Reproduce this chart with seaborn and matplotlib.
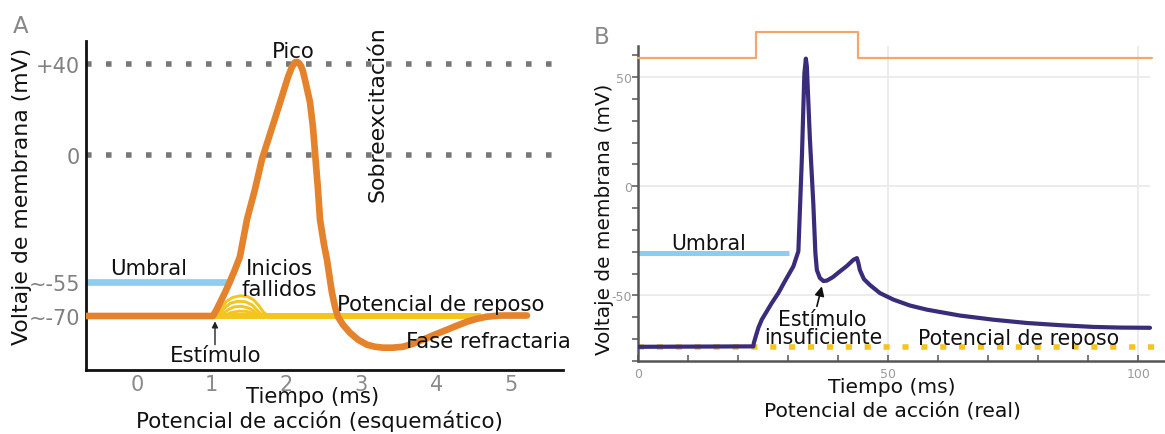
import matplotlib
matplotlib.use("Agg")
import matplotlib.pyplot as plt
import seaborn as sns

# ---------------- Panel A (schematic) data ----------------
a_time = [-0.682, 1.016, 1.056, 1.110, 1.176, 1.243, 1.310, 1.377, 1.471, 1.578, 1.671,
          1.778, 1.872, 1.952, 2.019, 2.072, 2.112, 2.139, 2.166, 2.193, 2.219, 2.259,
          2.313, 2.353, 2.380, 2.420, 2.447, 2.500, 2.540, 2.580, 2.607, 2.647, 2.687,
          2.754, 2.848, 2.955, 3.075, 3.182, 3.289, 3.422, 3.556, 3.690, 3.824, 3.984,
          4.144, 4.278, 4.412, 4.545, 4.679, 4.853, 5.214]
a_volt = [-70, -70, -67.7, -64.2, -59.8, -55.0, -49.8, -44.1, -27.9, -14.8, -1.7,
          9.2, 18.8, 27.1, 34.1, 38.5, 40.5, 40.7, 40.2, 38.9, 36.7, 31.1,
          23.2, 12.3, 1.4, -14.8, -27.9, -38.8, -45.4, -54.1, -59.8, -65.9, -70.3,
          -73.8, -77.3, -80.3, -82.5, -83.4, -83.8, -83.8, -83.4, -82.1, -80.3, -78.1,
          -76.0, -74.2, -72.5, -71.2, -70.3, -69.8, -69.8]
a_ref_levels = [40, 0]
a_ref_span = [-0.682, 5.60]
a_threshold = -55
a_threshold_span = [-0.682, 1.243]
a_rest = -70
a_rest_span = [1.016, 4.60]
# failed initiations (small humps)
arc1_t = [1.08, 1.14, 1.20, 1.28, 1.38, 1.48, 1.56, 1.63, 1.69, 1.76]
arc1_v = [-70, -66.0, -63.5, -61.9, -61.2, -61.5, -63.0, -65.5, -68.3, -70]
arc2_t = [1.10, 1.17, 1.25, 1.35, 1.45, 1.54, 1.61, 1.68]
arc2_v = [-70, -66.5, -64.4, -63.6, -63.8, -65.2, -67.6, -70]
arc3_t = [1.13, 1.21, 1.30, 1.40, 1.50, 1.58, 1.64]
arc3_v = [-70, -67.4, -66.0, -65.8, -66.6, -68.3, -70]
arc4_t = [1.16, 1.25, 1.36, 1.47, 1.56, 1.62]
arc4_v = [-70, -68.6, -67.9, -68.0, -69.0, -70]
a_yticks = [40, 0, -55, -70]
a_yticklabels = ["+40", "0", "~-55", "~-70"]
a_xticks = [0, 1, 2, 3, 4, 5]

# ---------------- Panel B (real) data ----------------
b_time = [0, 23.0, 23.1, 23.5, 24.0, 24.7, 25.7, 26.7, 28.0, 29.3, 31.0, 32.0, 32.7,
          33.2, 33.5, 33.7, 34.3, 35.0, 35.4, 35.7, 36.3, 37.0, 37.7, 38.9, 40.3, 41.7,
          43.0, 43.7, 44.0, 44.3, 45.1, 46.3, 48.3, 51.0, 54.3, 57.7, 64.3, 71.0, 77.7,
          84.3, 91.0, 96.3, 102.3]
b_volt = [-73.5, -73.3, -71.7, -68.6, -64.8, -61.0, -57.2, -53.4, -48.9, -43.5, -36.7,
          -29.8, 12.8, 51.6, 58.4, 54.8, 21.9, -8.5, -30.6, -38.4, -42.0, -43.4, -43.2,
          -41.6, -39.0, -36.5, -33.7, -32.9, -35.2, -38.4, -42.5, -45.2, -48.9, -51.9,
          -54.6, -56.5, -59.2, -61.1, -62.6, -63.6, -64.4, -64.7, -64.8]
stim_time = [0, 23.5, 23.5, 43.9, 43.9, 102.7]
stim_level = [58.6, 58.6, 70.4, 70.4, 58.6, 58.6]
b_threshold = -30.6
b_threshold_span = [0, 30.2]
b_rest = -73.8
b_rest_span = [0, 106]
b_grid_y = [50, 0, -50]
b_grid_x = [50, 100]
b_yticks = list(range(-80, 61, 10))
b_ylabels = {50: "50", 0: "0", -50: "-50"}
b_xticks = list(range(0, 101, 10))
b_xlabels = {0: "0", 50: "50", 100: "100"}

ORANGE = "#e5822c"
YELLOW = "#f5c51e"
BLUE = "#8dcdf0"
PURPLE = "#3b2c7b"
STIM = "#f3a76c"

sns.set_theme(style="white")
plt.rcParams["font.family"] = ["DejaVu Sans"]

W, H = 1165, 435
fig = plt.figure(figsize=(W / 100, H / 100), dpi=100)

def fx(px):
    return px / W

def fy(py):
    return 1 - py / H

axA = fig.add_axes([0.0738, 0.1478, 0.4097, 0.7556])
axB = fig.add_axes([0.5479, 0.1678, 0.4521, 0.7248])

# ---------- Panel A ----------
for lvl in a_ref_levels:
    axA.plot(a_ref_span, [lvl, lvl], color="#777777", lw=4, ls=(0, (1, 2.6)), zorder=1)
axA.plot(a_threshold_span, [a_threshold] * 2, color=BLUE, lw=4.8, zorder=2,
         solid_capstyle="butt")
axA.plot(a_rest_span, [a_rest] * 2, color=YELLOW, lw=4.3, zorder=2, solid_capstyle="butt")
for t, v in [(arc1_t, arc1_v), (arc2_t, arc2_v), (arc3_t, arc3_v), (arc4_t, arc4_v)]:
    sns.lineplot(x=t, y=v, ax=axA, sort=False, estimator=None, color=YELLOW, lw=2.1,
                 legend=False, zorder=3)
sns.lineplot(x=a_time, y=a_volt, ax=axA, sort=False, estimator=None, color=ORANGE,
             lw=4.8, legend=False, zorder=4, solid_joinstyle="round")

axA.set_xlim(-0.682, 5.70)
axA.set_ylim(-93.4, 49.8)
for s in ["top", "right"]:
    axA.spines[s].set_visible(False)
for s in ["left", "bottom"]:
    axA.spines[s].set_color("#111111")
    axA.spines[s].set_linewidth(2.0)
axA.set_yticks(a_yticks)
axA.set_yticklabels(a_yticklabels)
axA.set_xticks(a_xticks)
axA.set_xticklabels([str(t) for t in a_xticks])
axA.tick_params(axis="y", length=0, pad=4.3, labelsize=15, labelcolor="#808080")
axA.tick_params(axis="x", length=0, pad=3, labelsize=15, labelcolor="#8a8a8a")
axA.set_xlabel("")
axA.set_ylabel("")

tk = dict(fontsize=15.3, color="#111111", ha="center", va="baseline", zorder=6)
axA.text(2.086, 42.7, "Pico", **tk)
axA.text(0.151, -51.9, "Umbral", **tk)
axA.text(1.905, -51.9, "Inicios", **tk)
axA.text(1.905, -60.7, "fallidos", **tk)
axA.text(4.061, -67.5, "Potencial de reposo", **tk)
axA.text(4.697, -83.3, "Fase refractaria", **tk)
axA.text(1.054, -89.4, "Estímulo", **tk)
axA.text(3.215, 18.4, "Sobreexcitación", fontsize=15.8, color="#111111", ha="center",
         va="center", rotation=90)
axA.annotate("", xy=(1.043, -72.3), xytext=(1.043, -82.5),
             arrowprops=dict(arrowstyle="-|>", color="#222222", lw=1.0,
                             mutation_scale=9, shrinkA=0, shrinkB=0))

# ---------- Panel B ----------
axB.hlines(b_grid_y, 0, 102.4, color="#ebebeb", lw=1.3, zorder=0)
axB.vlines(b_grid_x, -80, 64.3, color="#ebebeb", lw=1.3, zorder=0)
axB.plot(b_rest_span, [b_rest] * 2, color=YELLOW, lw=4.0, ls=(0, (1.1, 2.3)), zorder=2)
axB.plot(b_threshold_span, [b_threshold] * 2, color=BLUE, lw=3.6, zorder=2,
         solid_capstyle="butt")
sns.lineplot(x=stim_time, y=stim_level, ax=axB, sort=False, estimator=None, color=STIM,
             lw=1.6, legend=False, clip_on=False, zorder=3)
sns.lineplot(x=b_time, y=b_volt, ax=axB, sort=False, estimator=None, color=PURPLE,
             lw=3.0, legend=False, zorder=4, solid_joinstyle="round")

axB.set_xlim(0, 105.3)
axB.set_ylim(-80, 64.3)
for s in ["top", "right"]:
    axB.spines[s].set_visible(False)
for s in ["left", "bottom"]:
    axB.spines[s].set_color("#555555")
    axB.spines[s].set_linewidth(1.8)
axB.set_yticks(b_yticks)
axB.set_yticklabels([b_ylabels.get(t, "") for t in b_yticks])
axB.set_xticks(b_xticks)
axB.set_xticklabels([b_xlabels.get(t, "") for t in b_xticks])
axB.tick_params(axis="y", direction="out", length=4, width=1.1, color="#555555",
                pad=0.5, labelsize=9, labelcolor="#9a9a9a", left=True)
axB.tick_params(axis="x", direction="in", length=4, width=1.1, color="#555555",
                pad=4, labelsize=9, labelcolor="#9a9a9a", bottom=True)
axB.set_xlabel("")
axB.set_ylabel("")

tb = dict(fontsize=14.8, color="#111111", ha="center", va="baseline", zorder=6)
axB.text(14.1, -28.6, "Umbral", **tb)
axB.text(36.8, -63.6, "Estímulo", **tb)
axB.text(37.0, -71.7, "insuficiente", **tb)
axB.text(76.0, -72.0, "Potencial de reposo", **tb)
axB.annotate("", xy=(36.7, -45.8), xytext=(35.7, -55.0),
             arrowprops=dict(arrowstyle="-|>", color="#111111", lw=1.2,
                             mutation_scale=14, shrinkA=0, shrinkB=0))

# ---------- Figure-level labels ----------
fig.text(fx(21), fy(33.3), "A", fontsize=16.5, color="#888888", ha="center", va="baseline")
fig.text(fx(602), fy(44.3), "B", fontsize=16.5, color="#888888", ha="center", va="baseline")
fig.text(fx(22.5), fy(196.5), "Voltaje de membrana (mV)", fontsize=15.8, color="#111111",
         rotation=90, ha="center", va="center")
fig.text(fx(604), fy(219), "Voltaje de membrana (mV)", fontsize=14.4, color="#111111",
         rotation=90, ha="center", va="center")
fig.text(fx(312.5), fy(403), "Tiempo (ms)", fontsize=15.3, color="#111111", ha="center",
         va="baseline")
fig.text(fx(319.5), fy(428), "Potencial de acción (esquemático)", fontsize=15.4,
         color="#111111", ha="center", va="baseline")
fig.text(fx(891.7), fy(393.3), "Tiempo (ms)", fontsize=14.6, color="#111111", ha="center",
         va="baseline")
fig.text(fx(892.5), fy(416.7), "Potencial de acción (real)", fontsize=14.6,
         color="#111111", ha="center", va="baseline")

fig.savefig("out.png", dpi=100)
